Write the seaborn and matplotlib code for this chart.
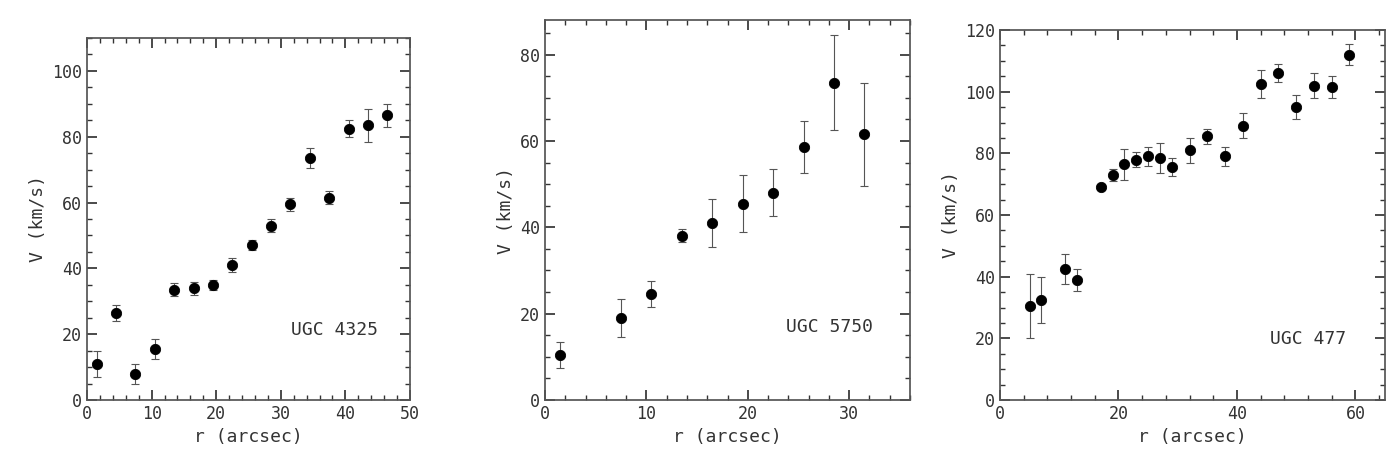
import matplotlib
matplotlib.use("Agg")
import matplotlib.pyplot as plt
import seaborn as sns
import pandas as pd
from matplotlib.ticker import MultipleLocator

sns.set_theme(style="ticks")
plt.rcParams['font.family'] = ['DejaVu Sans Mono']

r1 = [1.5,4.5,7.5,10.5,13.5,16.5,19.5,22.5,25.5,28.5,31.5,34.5,37.5,40.5,43.5,46.5]
v1 = [11,26.5,8,15.5,33.5,34,35,41,47,53,59.5,73.5,61.5,82.5,83.5,86.5]
e1 = [4,2.5,3,3,2,2,1.5,2,1.5,2,2,3,2,2.5,5,3.5]
r2 = [1.5,7.5,10.5,13.5,16.5,19.5,22.5,25.5,28.5,31.5]
v2 = [10.5,19,24.5,38,41,45.5,48,58.5,73.5,61.5]
e2 = [3,4.5,3,1.5,5.5,6.5,5.5,6,11,12]
r3 = [5,7,11,13,17,19,21,23,25,27,29,32,35,38,41,44,47,50,53,56,59]
v3 = [30.5,32.5,42.5,39,69,73,76.5,78,79,78.5,75.5,81,85.5,79,89,102.5,106,95,102,101.5,112]
e3 = [10.5,7.5,5,3.5,1,2,5,2.5,3,5,3,4,2.5,3,4,4.5,3,4,4,3.5,3.5]
names = ["UGC 4325", "UGC 5750", "UGC 477"]

fig = plt.figure(figsize=(13.94, 4.58), dpi=100)
rects = [(87/1394, 58/458, 323/1394, 362/458),
         (545/1394, 58/458, 365/1394, 380/458),
         (1000/1394, 58/458, 385/1394, 370/458)]
cfg = [(r1, v1, e1, (0, 50), (0, 110), 10, 20, (0.9, 0.18)),
       (r2, v2, e2, (0, 36), (0, 88), 10, 20, (0.9, 0.18)),
       (r3, v3, e3, (0, 65), (0, 120), 20, 20, (0.9, 0.15))]
for rect, (r, v, e, xl, yl, xmaj, ymaj, tpos), name in zip(rects, cfg, names):
    ax = fig.add_axes(rect)
    df = pd.DataFrame({"r": r, "v": v, "e": e})
    ax.errorbar(df.r, df.v, yerr=df.e, fmt="none", ecolor="#555555", elinewidth=0.8, capsize=3, capthick=0.8)
    sns.scatterplot(data=df, x="r", y="v", ax=ax, color="black", s=55, edgecolor="black", zorder=3)
    ax.set_xlim(*xl); ax.set_ylim(*yl)
    ax.xaxis.set_major_locator(MultipleLocator(xmaj))
    ax.xaxis.set_minor_locator(MultipleLocator(xmaj/5 if xmaj == 10 else 4))
    ax.yaxis.set_major_locator(MultipleLocator(ymaj))
    ax.yaxis.set_minor_locator(MultipleLocator(5))
    ax.tick_params(which="both", direction="in", top=True, right=True, labelsize=12, colors="#333333")
    ax.tick_params(which="major", length=7)
    ax.tick_params(which="minor", length=3.5)
    for s in ax.spines.values():
        s.set_color("#555555")
    ax.set_xlabel("r (arcsec)", fontsize=13, color="#333333")
    ax.set_ylabel("V (km/s)", fontsize=13, color="#333333")
    ax.text(tpos[0], tpos[1], name, transform=ax.transAxes, ha="right", fontsize=13, color="#333333")
fig.savefig("out.png", dpi=100)
